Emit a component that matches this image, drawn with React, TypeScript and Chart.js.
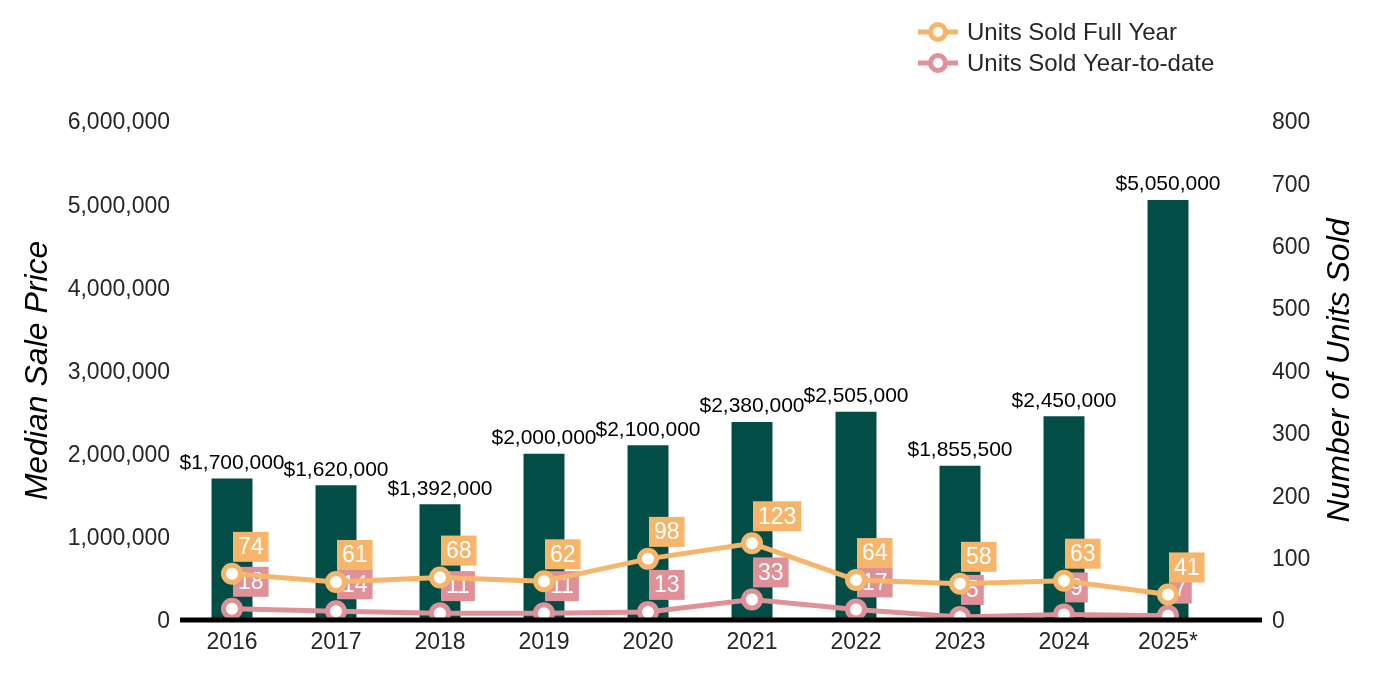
import React, { useEffect, useRef } from "react";
import { Chart, registerables } from "chart.js";

Chart.register(...registerables);

const categories = ["2016", "2017", "2018", "2019", "2020", "2021", "2022", "2023", "2024", "2025*"];
const medianPrice = [1700000, 1620000, 1392000, 2000000, 2100000, 2380000, 2505000, 1855500, 2450000, 5050000];
const unitsFullYear = [74, 61, 68, 62, 98, 123, 64, 58, 63, 41];
const unitsYTD = [18, 14, 11, 11, 13, 33, 17, 5, 9, 7];
const leftTitle = "Median Sale Price";
const rightTitle = "Number of Units Sold";
const legendLabels = ["Units Sold Full Year", "Units Sold Year-to-date"];

const FONT = "'Liberation Sans', Arial, sans-serif";
const BAR_COLOR = "#024D45";
const ORANGE = "#F5B66C";
const PINK = "#E09197";
const TEXT = "#262626";

const labelPlugin = {
  id: "customLabels",
  afterDatasetDraw(chart: any, args: any) {
    const ctx = chart.ctx;
    const idx = args.index;
    const meta = chart.getDatasetMeta(idx);
    const ds = chart.data.datasets[idx];
    ctx.save();
    if (idx === 0) {
      ctx.font = `21px ${FONT}`;
      ctx.fillStyle = "#000000";
      ctx.textAlign = "center";
      ctx.textBaseline = "bottom";
      meta.data.forEach((el: any, i: number) => {
        const v = ds.data[i] as number;
        ctx.fillText("$" + v.toLocaleString("en-US"), el.x, el.y - 5);
      });
    } else {
      ctx.font = `23px ${FONT}`;
      ctx.textAlign = "center";
      ctx.textBaseline = "middle";
      meta.data.forEach((el: any, i: number) => {
        const txt = String(ds.data[i]);
        const w = ctx.measureText(txt).width + 10;
        const h = 30;
        const left = el.x + 1;
        const bottom = el.y - 12;
        ctx.fillStyle = ds.borderColor;
        ctx.fillRect(left, bottom - h, w, h);
        ctx.fillStyle = "#ffffff";
        ctx.fillText(txt, left + w / 2, bottom - h / 2 + 1);
      });
    }
    ctx.restore();
  },
  afterDatasetsDraw(chart: any) {
    const ctx = chart.ctx;
    const a = chart.chartArea;
    ctx.save();
    ctx.strokeStyle = "#000000";
    ctx.lineWidth = 5;
    ctx.beginPath();
    ctx.moveTo(a.left, a.bottom);
    ctx.lineTo(a.right + 42, a.bottom);
    ctx.stroke();
    ctx.restore();
  },
  afterDraw(chart: any) {
    const ctx = chart.ctx;
    const a = chart.chartArea;
    ctx.save();
    ctx.font = `italic 32px ${FONT}`;
    ctx.fillStyle = "#000000";
    ctx.textAlign = "center";
    ctx.textBaseline = "middle";
    const cy = (a.top + a.bottom) / 2;
    ctx.save();
    ctx.translate(38, cy);
    ctx.rotate(-Math.PI / 2);
    ctx.fillText(leftTitle, 0, 0);
    ctx.restore();
    ctx.save();
    ctx.translate(1340, cy);
    ctx.rotate(-Math.PI / 2);
    ctx.fillText(rightTitle, 0, 0);
    ctx.restore();
    const colors = [ORANGE, PINK];
    const ys = [32, 63];
    legendLabels.forEach((lbl, i) => {
      const y = ys[i];
      ctx.strokeStyle = colors[i];
      ctx.lineWidth = 5;
      ctx.beginPath();
      ctx.moveTo(918, y);
      ctx.lineTo(958, y);
      ctx.stroke();
      ctx.beginPath();
      ctx.arc(938, y, 7.5, 0, Math.PI * 2);
      ctx.fillStyle = "#ffffff";
      ctx.fill();
      ctx.lineWidth = 5;
      ctx.stroke();
      ctx.font = `24px ${FONT}`;
      ctx.fillStyle = TEXT;
      ctx.textAlign = "left";
      ctx.textBaseline = "middle";
      ctx.fillText(lbl, 967, y + 1);
    });
    ctx.restore();
  },
};

export default function App() {
  const ref = useRef<HTMLCanvasElement | null>(null);
  useEffect(() => {
    document.body.style.margin = "0";
    if (!ref.current) return;
    const chart = new Chart(ref.current, {
      type: "bar",
      data: {
        labels: categories,
        datasets: [
          {
            type: "bar",
            label: "Median Sale Price",
            data: medianPrice,
            backgroundColor: BAR_COLOR,
            yAxisID: "y",
            order: 3,
            barPercentage: 0.394,
            categoryPercentage: 1,
          } as any,
          {
            type: "line",
            label: legendLabels[1],
            data: unitsYTD,
            borderColor: PINK,
            backgroundColor: "#ffffff",
            pointBackgroundColor: "#ffffff",
            pointBorderColor: PINK,
            pointBorderWidth: 5,
            pointRadius: 8.5,
            borderWidth: 5,
            yAxisID: "y1",
            order: 2,
          } as any,
          {
            type: "line",
            label: legendLabels[0],
            data: unitsFullYear,
            borderColor: ORANGE,
            backgroundColor: "#ffffff",
            pointBackgroundColor: "#ffffff",
            pointBorderColor: ORANGE,
            pointBorderWidth: 5,
            pointRadius: 8.5,
            borderWidth: 5,
            yAxisID: "y1",
            order: 1,
          } as any,
        ],
      },
      options: {
        animation: false,
        responsive: false,
        maintainAspectRatio: false,
        layout: { padding: { top: 121, left: 0, right: 0, bottom: 0 } },
        plugins: {
          legend: { display: false },
          tooltip: { enabled: false },
          title: { display: false },
        },
        scales: {
          x: {
            grid: { display: false, drawTicks: false },
            border: { display: false },
            ticks: { color: TEXT, font: { size: 23, family: FONT }, padding: 9, maxRotation: 0 },
            afterFit: (s: any) => {
              s.height = 80;
            },
          },
          y: {
            position: "left",
            min: 0,
            max: 6000000,
            grid: { display: false, drawTicks: false },
            border: { display: false },
            ticks: {
              stepSize: 1000000,
              color: TEXT,
              font: { size: 23, family: FONT },
              padding: 10,
              labelOffset: 2,
              callback: (v: any) => Number(v).toLocaleString("en-US"),
            },
            afterFit: (s: any) => {
              s.width = 180;
            },
          },
          y1: {
            position: "right",
            min: 0,
            max: 800,
            grid: { display: false, drawTicks: false },
            border: { display: false },
            ticks: {
              stepSize: 100,
              color: TEXT,
              font: { size: 23, family: FONT },
              padding: 52,
              labelOffset: 2,
            },
            afterFit: (s: any) => {
              s.width = 180;
            },
          },
        },
      } as any,
      plugins: [labelPlugin],
    });
    return () => chart.destroy();
  }, []);
  return (
    <div style={{ width: 1400, height: 700 }}>
      <canvas ref={ref} width={1400} height={700} style={{ display: "block", width: 1400, height: 700 }} />
    </div>
  );
}
